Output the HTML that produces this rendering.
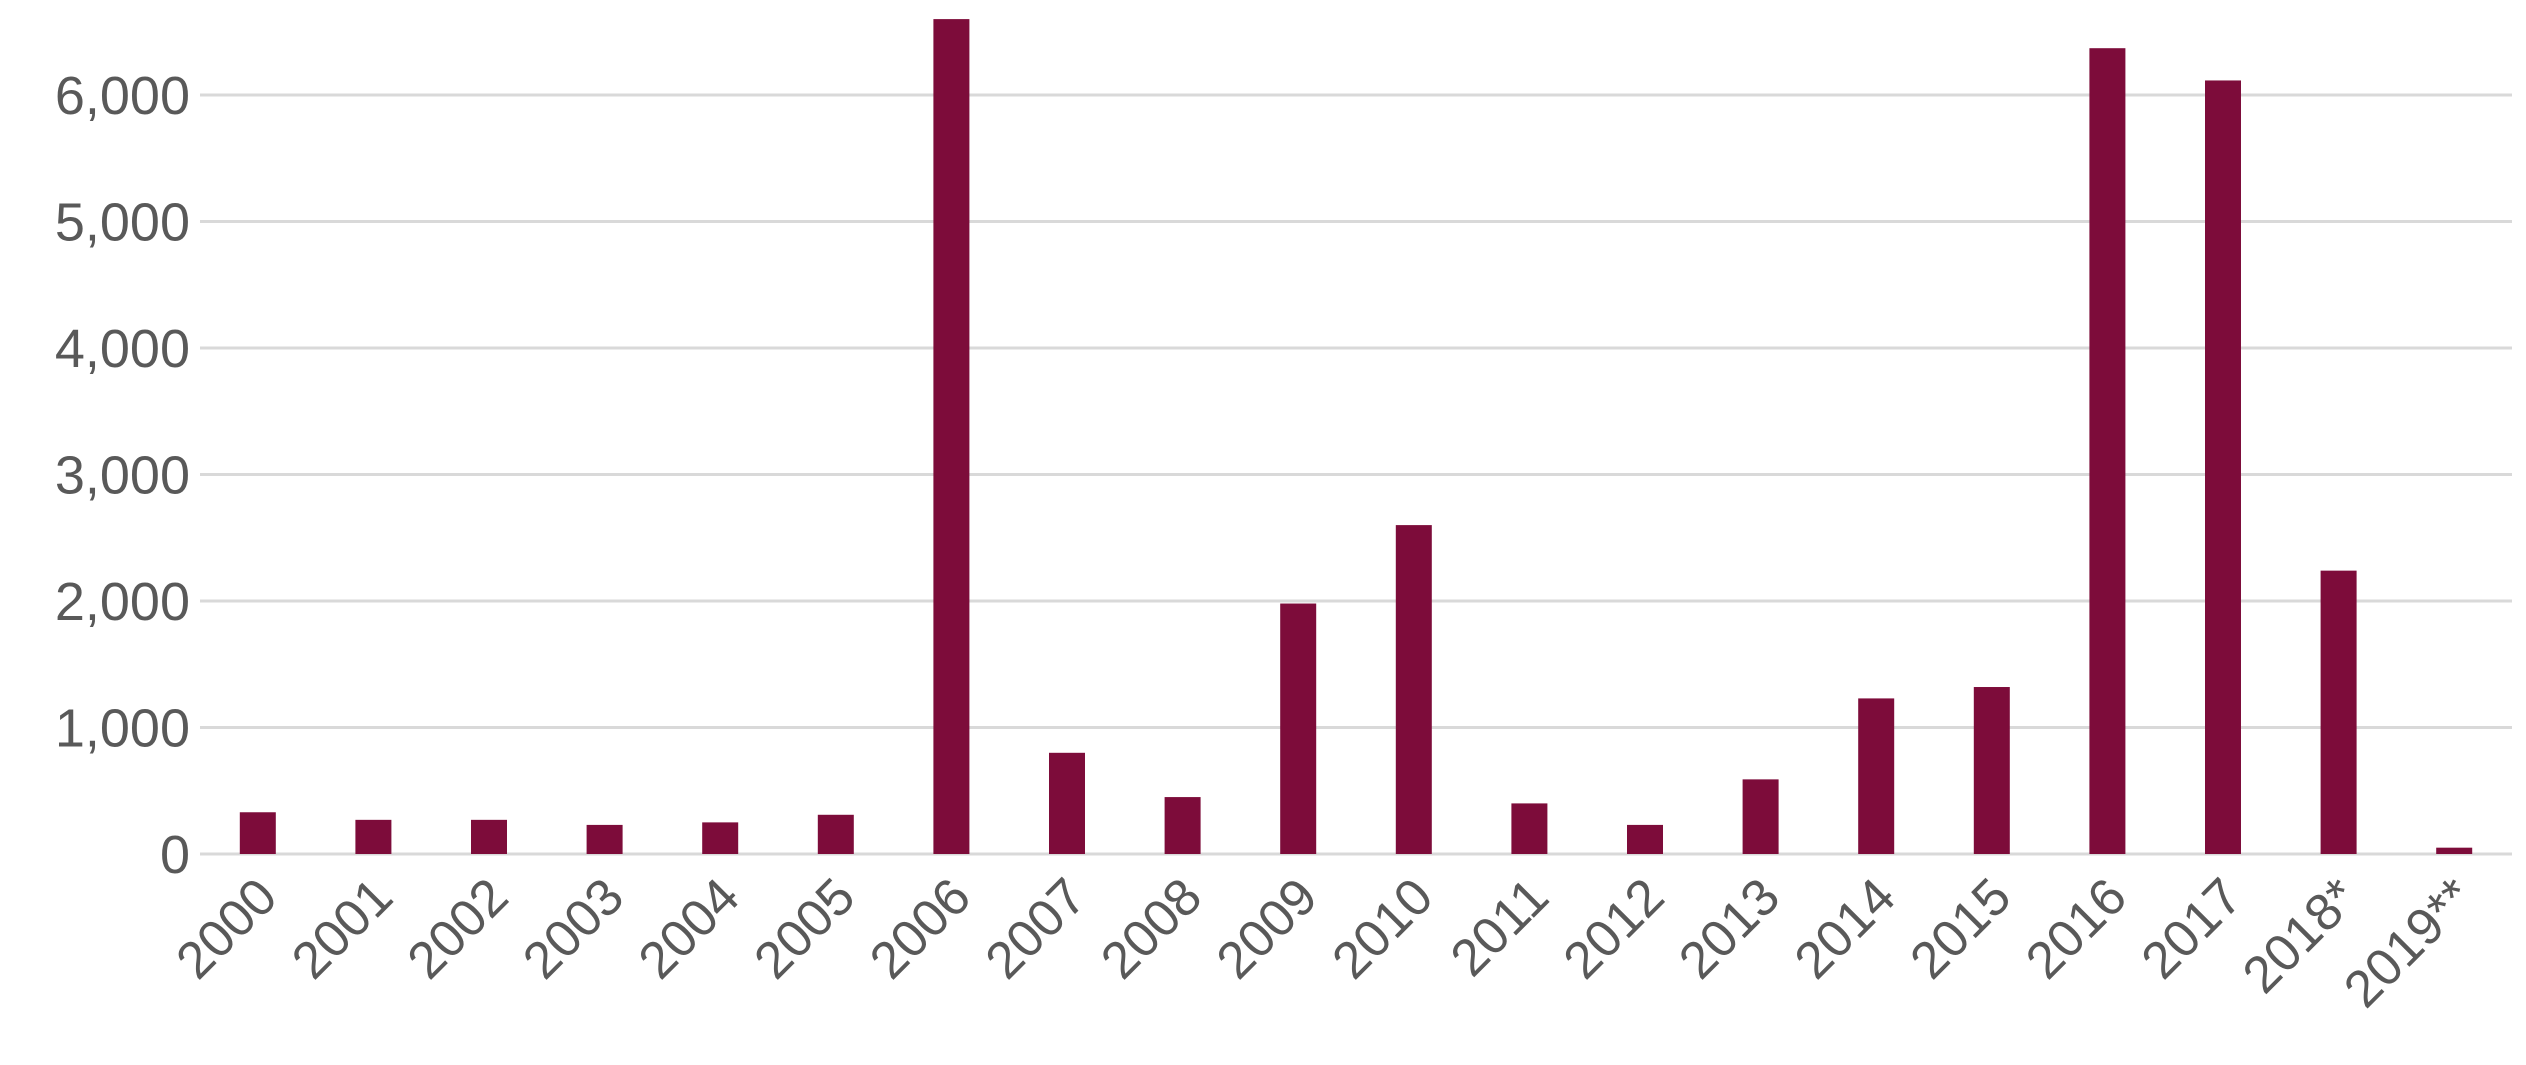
<!DOCTYPE html>
<html><head><meta charset="utf-8"><style>
html,body{margin:0;padding:0;background:#fff;}
svg{display:block;font-family:"Liberation Sans",Calibri,sans-serif;}
</style></head><body>
<svg id="chart" width="2526" height="1065" viewBox="0 0 2526 1065" xmlns="http://www.w3.org/2000/svg">
<g id="grid"></g>
<g id="yaxis"></g>
<g id="bars"></g>
<g id="xaxis"></g>
</svg>
<script>
const categories = ["2000","2001","2002","2003","2004","2005","2006","2007","2008","2009","2010","2011","2012","2013","2014","2015","2016","2017","2018*","2019**"];
const values = [330,270,270,230,250,310,6600,800,450,1980,2600,400,230,590,1230,1320,6370,6115,2240,50];
const yTicks = [0,1000,2000,3000,4000,5000,6000];
const yTickLabels = ["0","1,000","2,000","3,000","4,000","5,000","6,000"];

const NS="http://www.w3.org/2000/svg";
const plotL=200, plotR=2512, baseY=854, per1000=126.5;
const step=(plotR-plotL)/categories.length, barW=36;
function y(v){return baseY - v/1000*per1000;}
function xc(i){return plotL + step*(i+0.5);}
function mk(tag,attrs,parent){const e=document.createElementNS(NS,tag);for(const k in attrs)e.setAttribute(k,attrs[k]);parent.appendChild(e);return e;}
const grid=document.getElementById('grid'), ya=document.getElementById('yaxis'), bars=document.getElementById('bars'), xa=document.getElementById('xaxis');
yTicks.forEach((t,i)=>{
  const l=mk('line',{x1:plotL,x2:plotR,y1:y(t),y2:y(t),stroke:'#d9d9d9','stroke-width':3},grid);
  
  
  const tx=mk('text',{x:190,y:y(t)+19,'text-anchor':'end','font-size':54,fill:'#595959'},ya);
  tx.textContent=yTickLabels[i];
  
  
});
categories.forEach((c,i)=>{
  const r=mk('rect',{x:xc(i)-barW/2,y:y(values[i]),width:barW,height:baseY-y(values[i]),fill:'#7d0c3a'},bars);
  
  
  const tx=mk('text',{x:0,y:0,'text-anchor':'end','font-size':52,fill:'#595959',transform:`translate(${xc(i)+22},${baseY+46}) rotate(-45)`},xa);
  tx.textContent=c;
  
  
});
</script>
</body></html>
